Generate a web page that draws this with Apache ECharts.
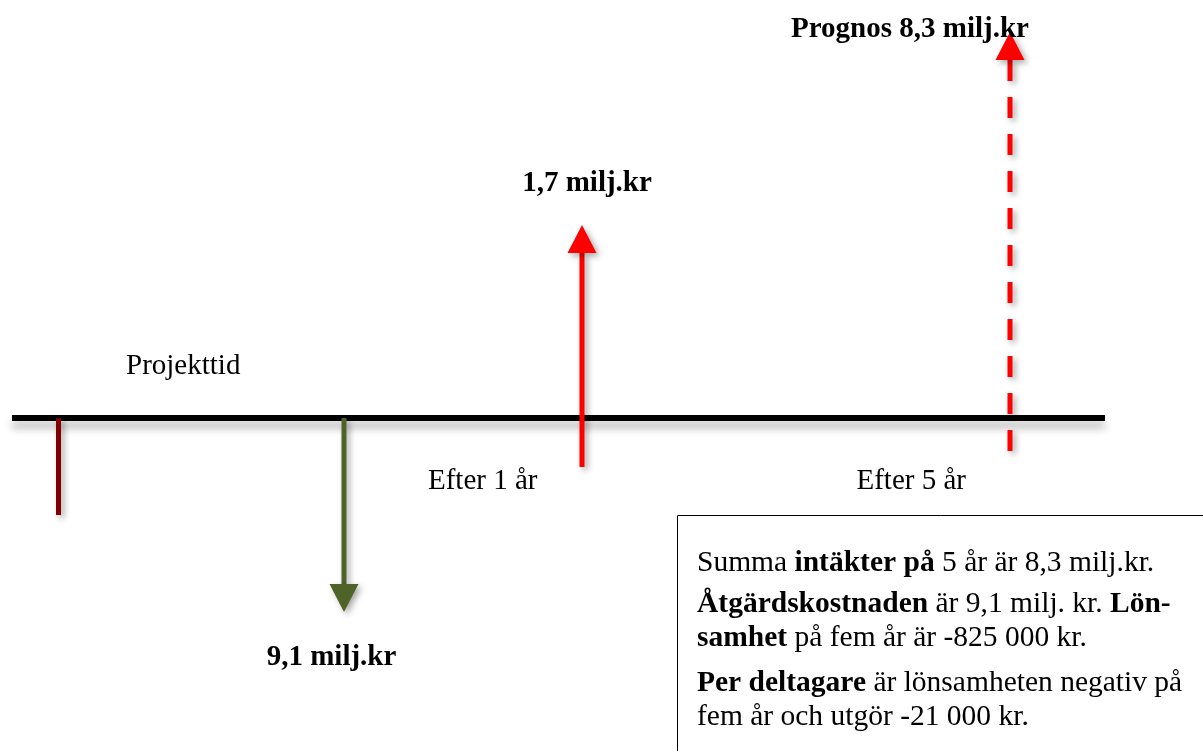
<!DOCTYPE html>
<html>
<head>
<meta charset="utf-8">
<script src="https://cdn.jsdelivr.net/npm/echarts@6/dist/echarts.min.js"></script>
<style>
html,body{margin:0;padding:0;background:#fff;}
#chart{width:1203px;height:751px;}
</style>
</head>
<body>
<div id="chart"></div>
<script>
// ---- data ----
const categories = ['Projektstart', 'Åtgärdskostnad', 'Efter 1 år', 'Efter 5 år'];
const timePos = [58.5, 344, 582, 1010];          // position on the time axis
const arrowStart = [0, 0, -49, -49];              // level where each mark starts
const arrowEnd = [-97, -194, 193, 386];           // level where each mark ends (tip)
const valueLabels = ['', '9,1 milj.kr', '1,7 milj.kr', 'Prognos 8,3 milj.kr'];
const timelineRange = [12, 1105];
const timeLabels = ['Projekttid', 'Efter 1 år', 'Efter 5 år'];
const summaryLines = [
  [['Summa ', 0], ['intäkter på', 1], [' 5 år är 8,3 milj.kr.', 0]],
  [['Åtgärdskostnaden', 1], [' är 9,1 milj. kr. ', 0], ['Lön-', 1]],
  [['samhet', 1], [' på fem år är -825 000 kr.', 0]],
  [['Per deltagare', 1], [' är lönsamheten negativ på', 0]],
  [['fem år och utgör -21 000 kr.', 0]]
];

// ---- layout / style ----
const markColors = ['#800000', '#4F6228', '#FF0000', '#FF0000'];
const markDashed = [false, false, false, true];
const markHead = [false, true, true, true];
const timeLabelAnchor = [[126, 51.5], [428, -63.5], [856.5, -63.5]];
const valueLabelAnchor = [null, [331.5, -240], [587, 234.5], [910, 388]];
const FONT = '"Liberation Serif", "Times New Roman", serif';
const FS = 29;
const FS_BOX = 29.5;
const shadow = { shadowColor: 'rgba(0,0,0,0.35)', shadowBlur: 6, shadowOffsetX: 3, shadowOffsetY: 3 };

const chart = echarts.init(document.getElementById('chart'), null, { renderer: 'canvas' });

const arrowData = categories.map((c, i) => [timePos[i], arrowStart[i], arrowEnd[i], i]);

function renderTimeline(params, api) {
  const a = api.coord([api.value(0), 0]);
  const b = api.coord([api.value(1), 0]);
  return {
    type: 'line',
    shape: { x1: a[0], y1: a[1], x2: b[0], y2: b[1] },
    style: { stroke: '#000', lineWidth: 6, shadowColor: 'rgba(0,0,0,0.3)', shadowBlur: 9, shadowOffsetX: 0, shadowOffsetY: 7 }
  };
}

function renderArrow(params, api) {
  const x = api.value(0), s = api.value(1), e = api.value(2), i = api.value(3);
  const p0 = api.coord([x, s]);
  const p1 = api.coord([x, e]);
  const color = markColors[i];
  const children = [];
  if (markHead[i]) {
    const dir = Math.sign(p1[1] - p0[1]);
    const headLen = 28, halfW = 14.5;
    const baseY = p1[1] - dir * headLen;
    const lineStyle = Object.assign({ stroke: color, lineWidth: 5, lineCap: 'butt' }, shadow);
    if (markDashed[i]) lineStyle.lineDash = [21, 16];
    children.push({
      type: 'line',
      shape: { x1: p0[0], y1: baseY, x2: p0[0], y2: p0[1] },
      style: lineStyle
    });
    children.push({
      type: 'polygon',
      shape: { points: [[p1[0] - halfW, baseY], [p1[0] + halfW, baseY], [p1[0], p1[1]]] },
      style: Object.assign({ fill: color }, shadow)
    });
  } else {
    children.push({
      type: 'line',
      shape: { x1: p0[0], y1: p0[1], x2: p1[0], y2: p1[1] },
      style: Object.assign({ stroke: color, lineWidth: 5 }, shadow)
    });
  }
  return { type: 'group', children };
}

function renderText(params, api) {
  const p = api.coord([api.value(0), api.value(1)]);
  const bold = api.value(3) === 1;
  return {
    type: 'text',
    style: {
      text: api.value(2),
      x: p[0], y: p[1],
      fill: '#000',
      fontFamily: FONT,
      fontSize: FS,
      fontWeight: bold ? 'bold' : 'normal',
      align: api.value(4),
      verticalAlign: 'middle'
    }
  };
}

const textData = [];
timeLabels.forEach((t, i) => textData.push([timeLabelAnchor[i][0], timeLabelAnchor[i][1], t, 0, 'left']));
valueLabels.forEach((t, i) => { if (t) textData.push([valueLabelAnchor[i][0], valueLabelAnchor[i][1], t, 1, 'center']); });

// summary box
const summaryY = [563, 604, 638, 683, 717];
const rich = {
  r: { fontFamily: FONT, fontSize: FS_BOX, fontWeight: 'normal', fill: '#000', color: '#000' },
  b: { fontFamily: FONT, fontSize: FS_BOX, fontWeight: 'bold', fill: '#000', color: '#000' }
};
const graphics = [{
  type: 'rect',
  shape: { x: 677.5, y: 515.5, width: 600, height: 300 },
  style: { fill: '#fff', stroke: '#000', lineWidth: 1 },
  z: 10
}];
summaryLines.forEach((segs, k) => {
  graphics.push({
    type: 'text',
    x: 697, y: summaryY[k],
    z: 11,
    style: {
      text: segs.map(s => '{' + (s[1] ? 'b' : 'r') + '|' + s[0] + '}').join(''),
      rich: rich,
      verticalAlign: 'middle',
      align: 'left',
      fontFamily: FONT,
      fontSize: FS_BOX
    }
  });
});

chart.setOption({
  animation: false,
  grid: { left: 0, right: 0, top: 0, bottom: 0 },
  xAxis: { type: 'value', min: 0, max: 1203, show: false },
  yAxis: { type: 'value', min: -333, max: 418, show: false },
  series: [
    { type: 'custom', name: 'Tidslinje', renderItem: renderTimeline, data: [[timelineRange[0], timelineRange[1]]], z: 1 },
    { type: 'custom', name: 'Pilar', renderItem: renderArrow, data: arrowData, z: 2 },
    { type: 'custom', name: 'Etiketter', renderItem: renderText, data: textData, z: 3 }
  ],
  graphic: graphics
});
</script>
</body>
</html>
